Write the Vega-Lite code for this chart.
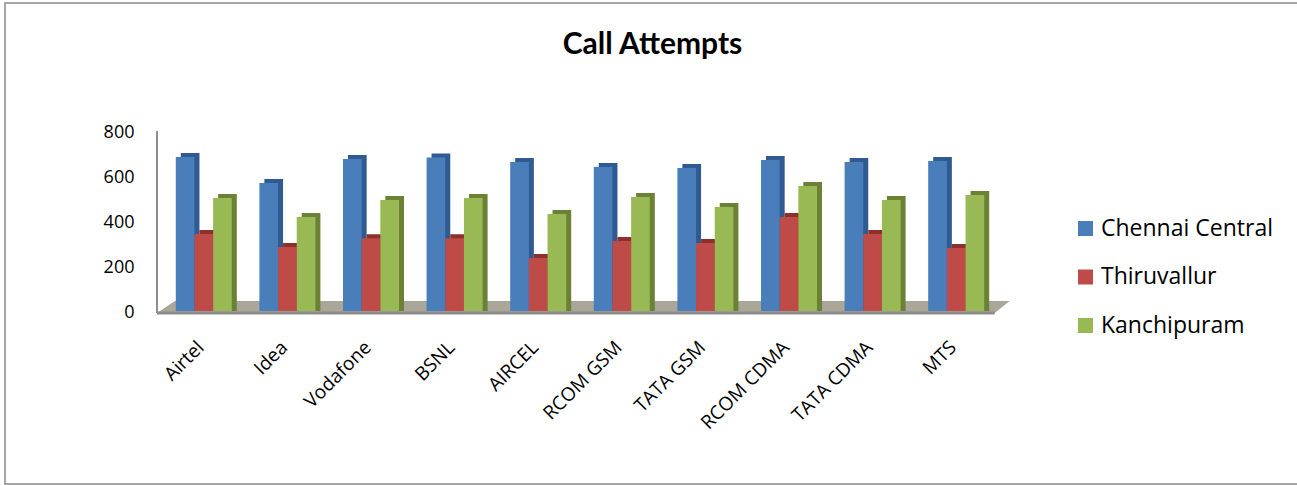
{"$schema":"https://vega.github.io/schema/vega-lite/v6.json","width":1295,"height":481,"autosize":{"type":"none"},"padding":{"left":5,"top":3,"right":0,"bottom":1},"background":"white","config":{"view":{"stroke":"#8a8a8a","strokeWidth":1.5},"font":"Open Sans"},
"title":{"text":"Call Attempts","font":"Lato","fontSize":30,"fontWeight":"bold","color":"#000000","anchor":"middle","offset":-57,"dx":0},
"datasets":{"attempts":[
{"operator":"Airtel","series":"Chennai Central","calls":676},{"operator":"Airtel","series":"Thiruvallur","calls":333},{"operator":"Airtel","series":"Kanchipuram","calls":493},
{"operator":"Idea","series":"Chennai Central","calls":560},{"operator":"Idea","series":"Thiruvallur","calls":276},{"operator":"Idea","series":"Kanchipuram","calls":409},
{"operator":"Vodafone","series":"Chennai Central","calls":667},{"operator":"Vodafone","series":"Thiruvallur","calls":315},{"operator":"Vodafone","series":"Kanchipuram","calls":484},
{"operator":"BSNL","series":"Chennai Central","calls":673},{"operator":"BSNL","series":"Thiruvallur","calls":315},{"operator":"BSNL","series":"Kanchipuram","calls":493},
{"operator":"AIRCEL","series":"Chennai Central","calls":653},{"operator":"AIRCEL","series":"Thiruvallur","calls":227},{"operator":"AIRCEL","series":"Kanchipuram","calls":422},
{"operator":"RCOM GSM","series":"Chennai Central","calls":631},{"operator":"RCOM GSM","series":"Thiruvallur","calls":302},{"operator":"RCOM GSM","series":"Kanchipuram","calls":498},
{"operator":"TATA  GSM","series":"Chennai Central","calls":627},{"operator":"TATA  GSM","series":"Thiruvallur","calls":293},{"operator":"TATA  GSM","series":"Kanchipuram","calls":453},
{"operator":"RCOM CDMA","series":"Chennai Central","calls":662},{"operator":"RCOM CDMA","series":"Thiruvallur","calls":409},{"operator":"RCOM CDMA","series":"Kanchipuram","calls":547},
{"operator":"TATA CDMA","series":"Chennai Central","calls":653},{"operator":"TATA CDMA","series":"Thiruvallur","calls":333},{"operator":"TATA CDMA","series":"Kanchipuram","calls":484},
{"operator":"MTS","series":"Chennai Central","calls":658},{"operator":"MTS","series":"Thiruvallur","calls":271},{"operator":"MTS","series":"Kanchipuram","calls":507}
]},
"resolve":{"scale":{"x":"independent","xOffset":"independent","color":"independent"}},
"layer":[
{"data":{"values":[{"pos":-0.06,"back":-9,"front":-9},{"pos":0.155,"back":44,"front":-9},{"pos":9.96,"back":44,"front":-9},{"pos":10.14,"back":44,"front":44}]},
"mark":{"type":"area","color":"#aaa698"},
"encoding":{"x":{"field":"pos","type":"quantitative","axis":null,"scale":{"domain":[0,10],"range":[157,993],"nice":false,"zero":false}},"y":{"field":"back","type":"quantitative","title":null,"scale":{"domain":[-769,1369],"nice":false,"zero":false},"axis":{"values":[0,200,400,600,800],"domain":false,"ticks":false,"grid":false,"offset":-129,"labelFont":"Open Sans","labelFontSize":18,"labelColor":"#000000","labelPadding":0,"labelOffset":1.5}},"y2":{"field":"front"}}},
{"data":{"values":[{"pos":-0.06,"level":-9},{"pos":9.96,"level":-9}]},
"mark":{"type":"line","color":"#8c8c8c","strokeWidth":3},
"encoding":{"x":{"field":"pos","type":"quantitative","axis":null,"scale":{"domain":[0,10],"range":[157,993],"nice":false,"zero":false}},"y":{"field":"level","type":"quantitative","title":null}}},
{"data":{"values":[{"pos":-0.06,"low":-9,"high":800}]},
"mark":{"type":"rule","color":"#8f8f8f","strokeWidth":2},
"encoding":{"x":{"field":"pos","type":"quantitative","axis":null,"scale":{"domain":[0,10],"range":[157,993],"nice":false,"zero":false}},"y":{"field":"low","type":"quantitative","title":null},"y2":{"field":"high"}}},
{"data":{"name":"attempts"},
"mark":{"type":"bar","yOffset":-6},
"encoding":{"x":{"field":"operator","type":"nominal","sort":null,"axis":null,"scale":{"range":[162,998],"paddingInner":0.33,"paddingOuter":0.165}},
"xOffset":{"field":"series","type":"nominal","scale":{"domain":["Chennai Central","Thiruvallur","Kanchipuram"],"paddingInner":0,"paddingOuter":0}},
"y":{"field":"calls","type":"quantitative","title":null},"y2":{"datum":0},
"color":{"field":"series","type":"nominal","legend":null,"scale":{"domain":["Chennai Central","Thiruvallur","Kanchipuram"],"range":["#2f5a92","#8f2f2c","#6b8236"]}}}},
{"data":{"name":"attempts"},
"mark":{"type":"bar","yOffset":-2},
"encoding":{"x":{"field":"operator","type":"nominal","sort":null,"title":null,"scale":{"range":[157,993],"paddingInner":0.33,"paddingOuter":0.165},
"axis":{"labelAngle":-45,"labelAlign":"right","labelBaseline":"middle","labelFont":"Open Sans","labelFontSize":19,"labelColor":"#000000","labelPadding":32,"labelOffset":-3,"domain":false,"ticks":false,"offset":-172,"labelOverlap":false,"grid":false}},
"xOffset":{"field":"series","type":"nominal","scale":{"domain":["Chennai Central","Thiruvallur","Kanchipuram"],"paddingInner":0,"paddingOuter":0}},
"y":{"field":"calls","type":"quantitative","title":null},"y2":{"datum":0},
"color":{"field":"series","type":"nominal","title":null,"scale":{"domain":["Chennai Central","Thiruvallur","Kanchipuram"],"range":["#4a7ebb","#be4b48","#98b954"]},
"legend":{"orient":"none","legendX":1069,"legendY":214,"symbolType":"square","symbolSize":225,"symbolStrokeWidth":0,"labelFont":"Open Sans","labelFontSize":23,"labelColor":"#000000","labelLimit":300,"rowPadding":24.5,"labelOffset":4,"symbolOffset":0,"padding":0}}}}
]}
